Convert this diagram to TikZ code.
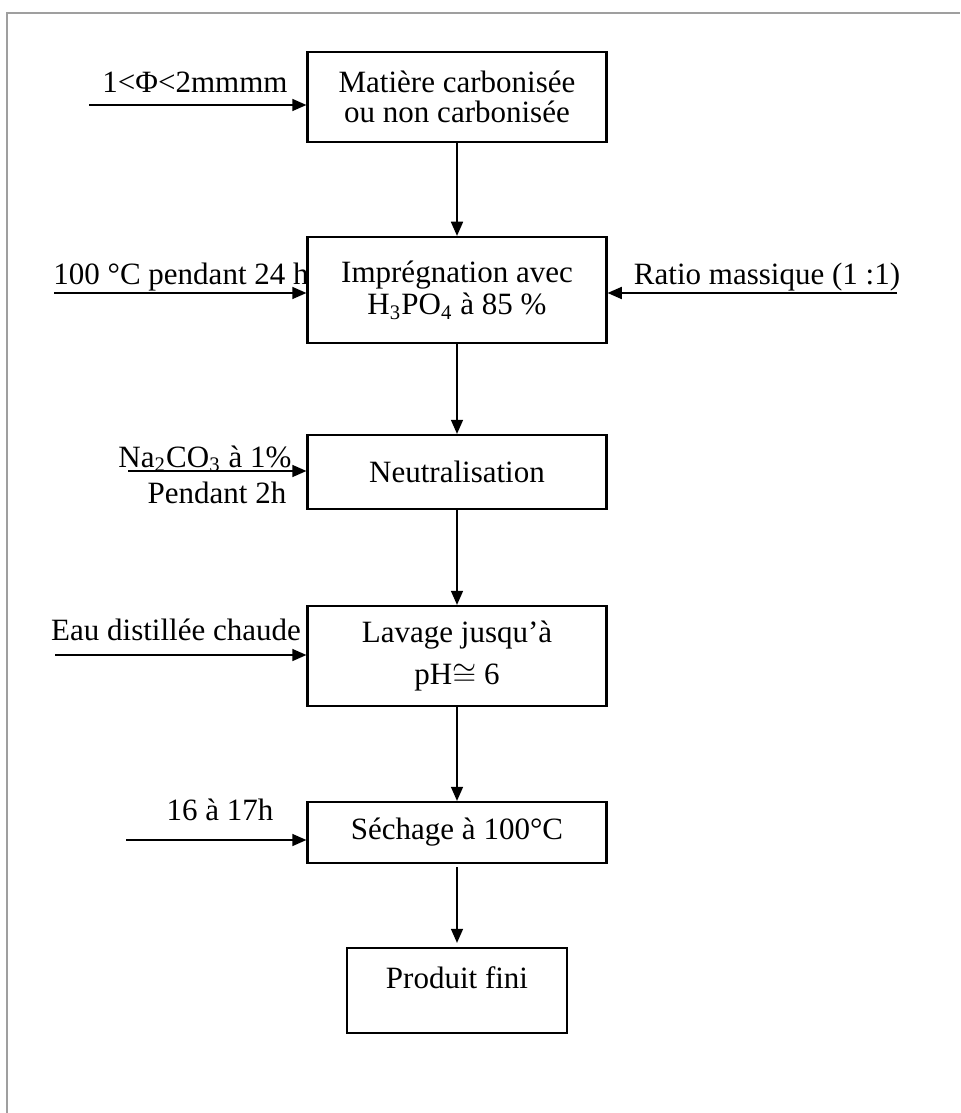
\documentclass[tikz,border=0pt]{standalone}
\usepackage{fontspec}
\setmainfont{Liberation Serif}
\usetikzlibrary{arrows.meta, positioning}
\newcommand{\pxu}{0.387pt}
\tikzset{
  block/.style={rectangle, draw=black, line width=0.8pt,
                minimum width=299*\pxu, inner sep=0pt,
                align=center, font=\fontsize{12}{14}\selectfont},
  endblock/.style={rectangle, draw=black, line width=0.8pt,
                   minimum width=220*\pxu, inner sep=0pt,
                   text height=15.5pt, text depth=17.4pt,
                   font=\fontsize{12}{14}\selectfont},
  lbl/.style={anchor=base, inner sep=0pt, font=\fontsize{12}{14}\selectfont},
  arrow/.style={-{Triangle[length=5.5pt,width=4.6pt]}, line width=0.8pt, black},
  frame/.style={draw=gray!75, line width=0.9pt},
}
\begin{document}
\begin{tikzpicture}[x=\pxu, y=-\pxu]
  \useasboundingbox (0,0) rectangle (960,1113);
  \draw[frame] (7,1113) -- (7,13) -- (960,13);
  % etapes
  \node[block, minimum height=90*\pxu] (mat) at (457,97)
    {Matière carbonisée\\[-2.4pt]ou non carbonisée};
  \node[block, minimum height=106*\pxu] (impreg) at (457,290)
    {Imprégnation avec\\[-1.6pt]H\textsubscript{3}PO\textsubscript{4} à 85 \%};
  \node[block, minimum height=74*\pxu] (neutra) at (457,472) {Neutralisation};
  \node[block, minimum height=100*\pxu] (lavage) at (457,656)
    {Lavage jusqu’à\\[2.3pt]pH$\cong$ 6};
  \node[block, minimum height=61*\pxu] (sechage) at (457,832.5) {Séchage à 100°C};
  \node[endblock] (produit) at (457,990.5) {Produit fini};
  % fleches principales
  \draw[arrow] (mat) -- (impreg);
  \draw[arrow] (impreg) -- (neutra);
  \draw[arrow] (neutra) -- (lavage);
  \draw[arrow] (lavage) -- (sechage);
  \draw[arrow, shorten <=3pt*0.387, shorten >=4*\pxu] (sechage) -- (produit);
  % entrees
  \coordinate (in1) at (89,105);
  \coordinate (in2) at (54,293);
  \coordinate (in2r) at (897,293);
  \coordinate (in3) at (128,471);
  \coordinate (in4) at (55,655);
  \coordinate (in5) at (126,840);
  \draw[arrow] (in1) -- (in1 -| mat.west);
  \draw[arrow] (in2) -- (in2 -| impreg.west);
  \draw[arrow] (in2r) -- (in2r -| impreg.east);
  \draw[arrow] (in3) -- (in3 -| neutra.west);
  \draw[arrow] (in4) -- (in4 -| lavage.west);
  \draw[arrow] (in5) -- (in5 -| sechage.west);
  % textes des entrees
  \node[lbl] (t1) at (195,93) {1<Φ<2mmmm};
  \node[lbl] (t2) at (181,285) {100 °C pendant 24 h};
  \node[lbl] (t2r) at (767,285) {Ratio massique (1 :1)};
  \node[lbl] (t3a) at (205,467) {Na\textsubscript{2}CO\textsubscript{3} à 1\%};
  \node[lbl] (t3b) at (217,503) {Pendant 2h};
  \node[lbl] (t4) at (176,640) {Eau distillée chaude};
  \node[lbl] (t5) at (220,820) {16 à 17h};
\end{tikzpicture}
\end{document}
